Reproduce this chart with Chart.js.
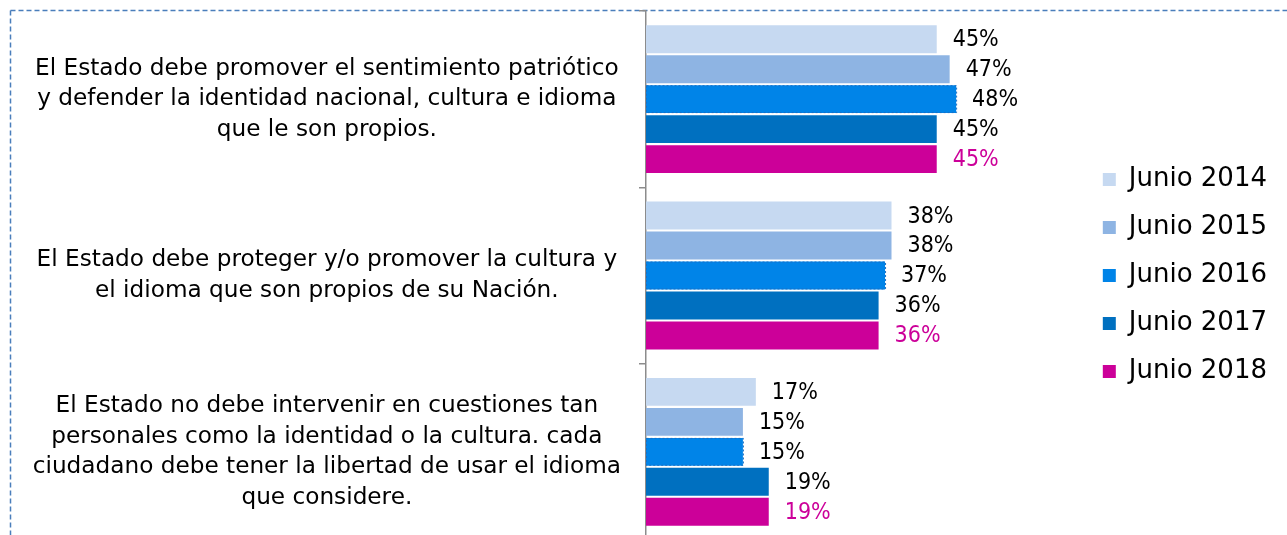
<!DOCTYPE html>
<html>
<head>
<meta charset="utf-8">
<script src="https://cdn.jsdelivr.net/npm/chart.js@4"></script>
<style>
  html, body { margin: 0; padding: 0; background: #fff; overflow: hidden; }
  #wrap { position: absolute; left: 0; top: 0; width: 1287px; height: 540px; }
</style>
</head>
<body>
<div id="wrap"><canvas id="chart"></canvas></div>
<script>
// Data
const categories = [
  ["El Estado debe promover el sentimiento patriótico", "y defender la identidad nacional, cultura e idioma", "que le son propios."],
  ["El Estado debe proteger y/o promover la cultura y", "el idioma que son propios de su Nación."],
  ["El Estado no debe intervenir en cuestiones tan", "personales como la identidad o la cultura. cada", "ciudadano debe tener la libertad de usar el idioma", "que considere."]
];
const seriesNames = ["Junio 2014", "Junio 2015", "Junio 2016", "Junio 2017", "Junio 2018"];
const junio2014 = [45, 38, 17];
const junio2015 = [47, 38, 15];
const junio2016 = [48, 37, 15];
const junio2017 = [45, 36, 19];
const junio2018 = [45, 36, 19];
const colors = ["#C6D9F1", "#8EB4E3", "#0084E8", "#0070C0", "#CC0099"];
const labelColors = ["#000", "#000", "#000", "#000", "#CC0099"];

const FONT = "'DejaVu Sans', sans-serif";
const FONT_NARROW = "'DejaVu Sans Condensed', 'DejaVu Sans', sans-serif";

const allValues = [junio2014, junio2015, junio2016, junio2017, junio2018];
const datasets = allValues.map((vals, i) => ({
  label: seriesNames[i],
  data: vals,
  backgroundColor: colors[i],
  borderWidth: 0,
  categoryPercentage: 0.85,
  barPercentage: 0.93
}));

// value labels at the end of each bar, plus the dashed frame
const extras = {
  id: "extras",
  beforeDraw(chart) {
    const ctx = chart.ctx;
    ctx.save();
    ctx.strokeStyle = "#4A7EBB";
    ctx.lineWidth = 1.5;
    ctx.setLineDash([5, 3]);
    ctx.beginPath();
    ctx.moveTo(10.5, 10.5);
    ctx.lineTo(chart.width, 10.5);
    ctx.moveTo(10.5, 10.5);
    ctx.lineTo(10.5, chart.height);
    ctx.stroke();
    ctx.restore();
  },
  afterDatasetsDraw(chart) {
    const ctx = chart.ctx;
    ctx.save();
    // dotted outline on the 2016 bars
    ctx.strokeStyle = "#1A6FC4";
    ctx.lineWidth = 1;
    ctx.setLineDash([2, 2]);
    chart.getDatasetMeta(2).data.forEach(bar => {
      const h = bar.height;
      ctx.strokeRect(bar.base + 0.5, bar.y - h / 2 + 0.5, bar.x - bar.base, h - 1);
    });
    ctx.setLineDash([]);
    ctx.font = "23px " + FONT_NARROW;
    ctx.textBaseline = "middle";
    ctx.textAlign = "left";
    chart.data.datasets.forEach((ds, i) => {
      chart.getDatasetMeta(i).data.forEach((bar, j) => {
        ctx.fillStyle = labelColors[i];
        ctx.fillText(ds.data[j] + "%", bar.x + 16, bar.y + 1);
      });
    });
    ctx.restore();
  }
};

new Chart(document.getElementById("chart"), {
  type: "bar",
  data: { labels: categories, datasets: datasets },
  plugins: [extras],
  options: {
    indexAxis: "y",
    responsive: true,
    maintainAspectRatio: false,
    animation: false,
    layout: { padding: { left: 10, top: 11, right: 10, bottom: 0 } },
    scales: {
      x: {
        min: 0,
        max: 67.3,
        display: false
      },
      y: {
        afterFit: s => { s.width = 636; s.paddingTop = 0; s.paddingBottom = 0; },
        border: { display: true, color: "#8C8C8C", width: 1.5 },
        grid: { drawOnChartArea: false, drawTicks: true, tickLength: 7, color: "#8C8C8C", lineWidth: 1.5 },
        ticks: {
          crossAlign: "center",
          padding: 18,
          color: "#000",
          font: { family: FONT, size: 23.2, lineHeight: 1.32 }
        }
      }
    },
    plugins: {
      tooltip: { enabled: false },
      legend: {
        position: "right",
        labels: {
          boxWidth: 13,
          boxHeight: 13,
          padding: 22,
          color: "#000",
          font: { family: FONT, size: 26 }
        }
      }
    }
  }
});
</script>
</body>
</html>
